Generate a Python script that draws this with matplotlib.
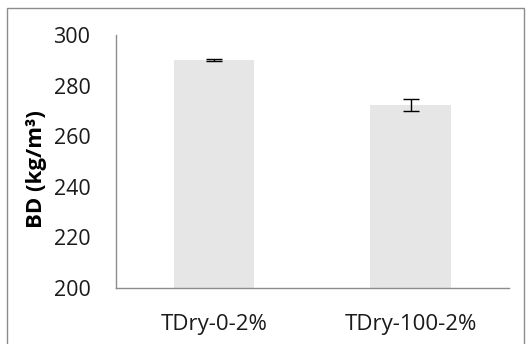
import matplotlib
matplotlib.use("Agg")
import matplotlib.pyplot as plt
from matplotlib.patches import Rectangle

plt.rcParams["font.family"] = ["Open Sans", "DejaVu Sans"]

# bulk density per treatment
categories = ["TDry-0-2%", "TDry-100-2%"]
bd_mean = [290.1, 272.5]
bd_err = [0.5, 2.4]

fig = plt.figure(figsize=(5.31, 3.44), dpi=100)
ax = fig.add_axes([115.5 / 531, 1 - 288 / 344, 393.5 / 531, 253 / 344])

x = range(len(categories))
ax.bar(x, [m - 200 for m in bd_mean], bottom=200, width=0.41, color="#e6e6e6", zorder=2)
ax.errorbar(x, bd_mean, yerr=bd_err, fmt="none", ecolor="black",
            elinewidth=1.0, capsize=5.5, capthick=1.0, zorder=3)

ax.set_xlim(-0.5, 1.5)
ax.set_ylim(200, 300)
ax.set_yticks(range(200, 301, 20))
ax.set_xticks(list(x))
ax.set_xticklabels(categories)
ax.tick_params(axis="both", length=0, labelsize=15.5, colors="#1a1a1a")
ax.tick_params(axis="x", labelsize=16, pad=19)
ax.tick_params(axis="y", pad=18)

for s in ("top", "right"):
    ax.spines[s].set_visible(False)
for s in ("left", "bottom"):
    ax.spines[s].set_color("#8c8c8c")
    ax.spines[s].set_linewidth(1.0)

ax.set_ylabel("BD (kg/m³)", fontsize=16, fontweight="bold")
ax.yaxis.set_label_coords(-0.175, 0.47)

# chart area frame
fig.patches.append(Rectangle((7 / 531, -0.05), 517 / 531, 1 - 8 / 344 + 0.05,
                             transform=fig.transFigure, fill=False,
                             edgecolor="#8c8c8c", linewidth=1.0))

fig.savefig("out.png", dpi=100)
